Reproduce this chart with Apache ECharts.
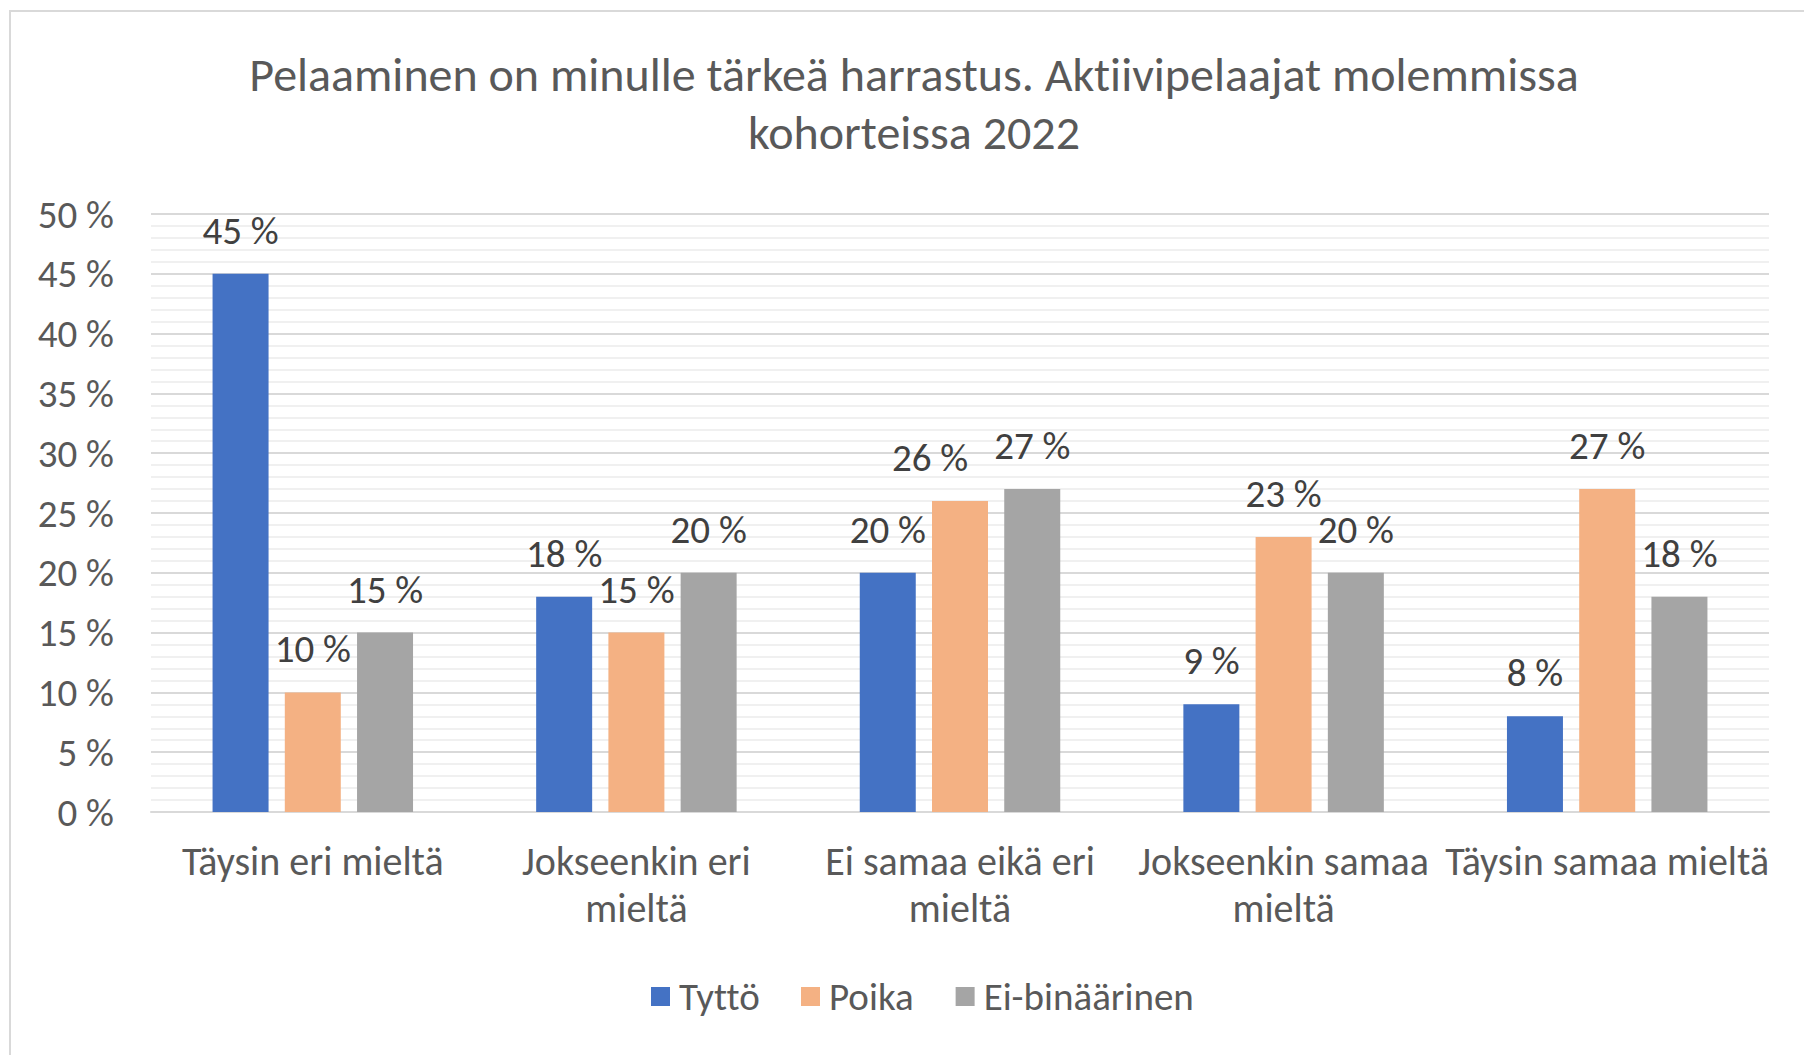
<!DOCTYPE html>
<html>
<head>
<meta charset="utf-8">
<script src="https://cdn.jsdelivr.net/npm/echarts@6/dist/echarts.min.js"></script>
<style>
  html, body { margin: 0; padding: 0; background: #fff; }
  #chart { width: 1804px; height: 1055px; }
  #chart text { font-variant-ligatures: none; }
</style>
</head>
<body>
<div id="chart"></div>
<script>
const categories = ['Täysin eri mieltä', 'Jokseenkin eri\nmieltä', 'Ei samaa eikä eri\nmieltä', 'Jokseenkin samaa\nmieltä', 'Täysin samaa mieltä'];
const tytto = [45, 18, 20, 9, 8];
const poika = [10, 15, 26, 23, 27];
const eiBinaarinen = [15, 20, 27, 20, 18];

const font = 'Carlito, "Liberation Sans", sans-serif';

function barSeries(name, data, color, shifted) {
    return {
        name: name,
        type: 'bar',
        barWidth: 56,
        barGap: '29%',
        itemStyle: { color: color },
        label: {
            show: true,
            position: 'top',
            distance: 24,
            formatter: '{c} %',
            color: '#404040',
            fontSize: 39,
            fontFamily: font
        },
        // Excel nudged one label sideways to avoid overlap
        data: data.map(function (v, i) {
            return i === shifted ? { value: v, label: { offset: [-30, 0] } } : v;
        })
    };
}

// Pelaaminen chart
const chart = echarts.init(document.getElementById('chart'), null, { renderer: 'svg' });
const option = {
    animation: false,
    backgroundColor: '#fff',
    graphic: [{
        type: 'rect',
        shape: { x: 10, y: 11, width: 1900, height: 1100 },
        style: { fill: 'none', stroke: '#d9d9d9', lineWidth: 2 }
    }],
    title: {
        text: 'Pelaaminen on minulle tärkeä harrastus. Aktiivipelaajat molemmissa\nkohorteissa 2022',
        left: 909,
        top: 40,
        textAlign: 'center',
        textStyle: {
            color: '#595959',
            fontSize: 48,
            fontWeight: 'normal',
            lineHeight: 58,
            fontFamily: font
        }
    },
    legend: {
        left: 646,
        top: 972,
        itemWidth: 19,
        itemHeight: 19,
        itemGap: 42,
        icon: 'rect',
        textStyle: {
            color: '#595959',
            fontSize: 39,
            fontFamily: font,
            padding: [0, 0, 0, 4]
        },
        data: ['Tyttö', 'Poika', 'Ei-binäärinen']
    },
    grid: {
        left: 151,
        right: 35,
        top: 214,
        bottom: 243
    },
    xAxis: {
        type: 'category',
        data: categories,
        axisLine: { lineStyle: { color: '#d9d9d9', width: 2 } },
        axisTick: { show: false },
        axisLabel: {
            color: '#595959',
            fontSize: 40,
            lineHeight: 47,
            margin: 26,
            interval: 0,
            fontFamily: font
        }
    },
    yAxis: {
        type: 'value',
        min: 0,
        max: 50,
        interval: 5,
        axisLine: { show: false },
        axisTick: { show: false },
        axisLabel: {
            color: '#595959',
            fontSize: 39,
            margin: 37,
            formatter: '{value} %',
            fontFamily: font
        },
        splitLine: { lineStyle: { color: '#d9d9d9', width: 2 } },
        minorTick: { show: false, splitNumber: 5 },
        minorSplitLine: { show: true, lineStyle: { color: '#f0f0f0', width: 2 } }
    },
    series: [
        barSeries('Tyttö', tytto, '#4472c4', -1),
        barSeries('Poika', poika, '#f4b183', 2),
        barSeries('Ei-binäärinen', eiBinaarinen, '#a5a5a5', -1)
    ]
};
chart.setOption(option);
</script>
</body>
</html>
